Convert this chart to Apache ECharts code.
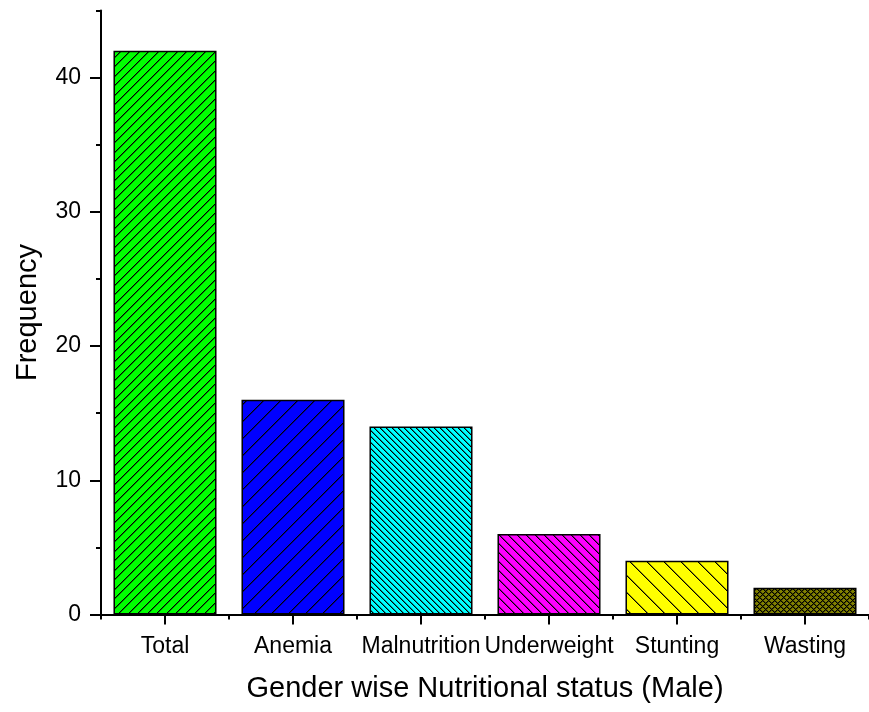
<!DOCTYPE html>
<html>
<head>
<meta charset="utf-8">
<script src="https://cdn.jsdelivr.net/npm/echarts@6/dist/echarts.min.js"></script>
<style>
  html, body { margin: 0; padding: 0; background: #fff; }
  #chart { width: 869px; height: 712px; }
</style>
</head>
<body>
<div id="chart"></div>
<script>
// Nutritional status counts for male participants
const categories = ['Total', 'Anemia', 'Malnutrition', 'Underweight', 'Stunting', 'Wasting'];
const frequency = [42, 16, 14, 6, 4, 2];
const yTickValues = [0, 10, 20, 30, 40];

// Fill colour and hatch style for each bar (offsets are line positions inside one tile)
const fills = ['#00ff00', '#0000ff', '#00ffff', '#ff00ff', '#ffff00', '#808000'];
const hatches = [
  { dir: '/', tile: 19, offsets: [0, 9] },
  { dir: '/', tile: 17, offsets: [0] },
  { dir: '\\', tile: 6, offsets: [0] },
  { dir: '\\', tile: 9, offsets: [0] },
  { dir: '\\', tile: 17, offsets: [0] },
  { dir: 'x', tile: 6, offsets: [0] }
];

function hexToRgb(hex) {
  const n = parseInt(hex.slice(1), 16);
  return [(n >> 16) & 255, (n >> 8) & 255, n & 255];
}

// Pixel-exact hatch tile: aliased 45-degree black lines over a solid fill
function hatchPattern(bg, dir, tile, offsets) {
  const T = tile;
  const c = document.createElement('canvas');
  c.width = T; c.height = T;
  const g = c.getContext('2d');
  const img = g.createImageData(T, T);
  const base = hexToRgb(bg);
  const mod = (a) => ((a % T) + T) % T;
  for (let y = 0; y < T; y++) {
    for (let x = 0; x < T; x++) {
      let shade = 1; // 1 = fill colour, 0 = black
      const a = mod(x + y);     // position across '/' lines
      const b = mod(x - y);     // position across '\' lines
      for (const o of offsets) {
        if (dir === '/' || dir === 'x') {
          if (a === o) shade = 0;
          else if (a === mod(o + 1)) shade = Math.min(shade, 0.55);
        }
        if (dir === '\\' || dir === 'x') {
          if (b === o) shade = 0;
          else if (b === mod(o + 1)) shade = Math.min(shade, 0.55);
        }
      }
      const i = (y * T + x) * 4;
      img.data[i] = base[0] * shade;
      img.data[i + 1] = base[1] * shade;
      img.data[i + 2] = base[2] * shade;
      img.data[i + 3] = 255;
    }
  }
  g.putImageData(img, 0, 0);
  return { image: c, repeat: 'repeat' };
}

const barData = frequency.map((v, i) => ({
  value: v,
  itemStyle: {
    color: hatchPattern(fills[i], hatches[i].dir, hatches[i].tile, hatches[i].offsets),
    borderColor: '#000',
    borderWidth: 1.5
  }
}));

const font = 'Liberation Sans, Arial, sans-serif';
const chart = echarts.init(document.getElementById('chart'), null, { renderer: 'canvas' });

chart.setOption({
  animation: false,
  backgroundColor: '#ffffff',
  grid: { left: 101, right: 0, top: 10.5, bottom: 97.5, containLabel: false },
  xAxis: [
    {
      type: 'category',
      data: categories,
      name: 'Gender wise Nutritional status (Male)',
      nameLocation: 'middle',
      nameGap: 60,
      nameTextStyle: { fontFamily: font, fontSize: 29, color: '#000' },
      axisLine: { show: true, lineStyle: { color: '#000', width: 2 } },
      axisTick: { show: true, alignWithLabel: true, length: 10, lineStyle: { color: '#000', width: 2 } },
      axisLabel: { fontFamily: font, fontSize: 23, color: '#000', margin: 21, interval: 0 },
      splitLine: { show: false }
    },
    {
      // short ticks on the category boundaries
      type: 'category',
      data: categories,
      position: 'bottom',
      axisLine: { show: false },
      axisTick: { show: true, length: 5, lineStyle: { color: '#000', width: 2 } },
      axisLabel: { show: false },
      splitLine: { show: false }
    }
  ],
  yAxis: [
    {
      type: 'value',
      min: 0,
      max: 45,
      interval: 10,
      name: 'Frequency',
      nameLocation: 'middle',
      nameGap: 59,
      nameTextStyle: { fontFamily: font, fontSize: 29, color: '#000' },
      axisLine: { show: true, lineStyle: { color: '#000', width: 2 } },
      axisTick: { show: true, length: 11, customValues: yTickValues, lineStyle: { color: '#000', width: 2 } },
      axisLabel: { fontFamily: font, fontSize: 23, color: '#000', margin: 20, customValues: yTickValues },
      splitLine: { show: false }
    },
    {
      // short minor ticks every 5 units
      type: 'value',
      min: 0,
      max: 45,
      interval: 5,
      position: 'left',
      axisLine: { show: false },
      axisTick: { show: true, length: 5, lineStyle: { color: '#000', width: 2 } },
      axisLabel: { show: false },
      splitLine: { show: false }
    }
  ],
  series: [
    {
      type: 'bar',
      xAxisIndex: 0,
      yAxisIndex: 0,
      data: barData,
      barCategoryGap: '19.5%'
    }
  ]
});
</script>
</body>
</html>
